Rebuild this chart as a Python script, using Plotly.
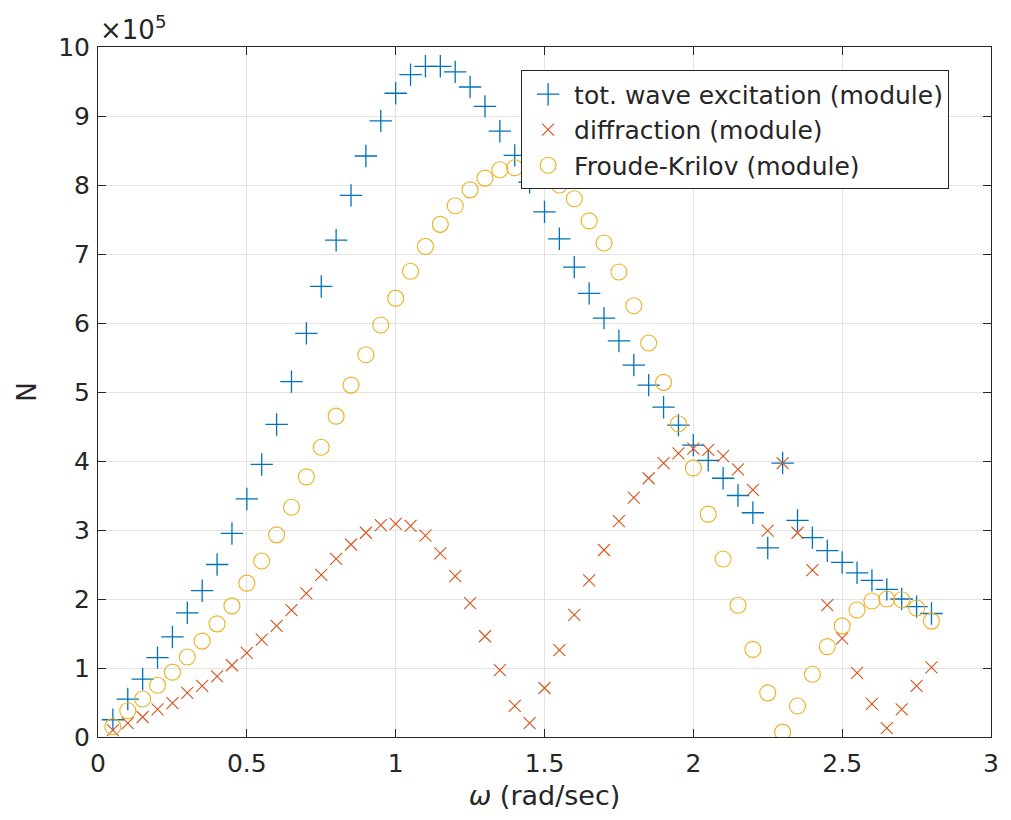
import plotly.graph_objects as go

# Angular frequency (rad/sec)
omega = [round(0.05 * k, 2) for k in range(1, 57)]

# Force modules, in units of 1e5 N
total_excitation = [
    0.25, 0.55, 0.84, 1.15, 1.45, 1.80, 2.12, 2.50, 2.95, 3.45,
    3.95, 4.53, 5.15, 5.85, 6.53, 7.20, 7.85, 8.42, 8.93, 9.33,
    9.60, 9.72, 9.72, 9.64, 9.42, 9.14, 8.78, 8.43, 8.04, 7.61,
    7.22, 6.81, 6.43, 6.07, 5.74, 5.39, 5.10, 4.78, 4.52, 4.23,
    4.01, 3.75, 3.50, 3.25, 2.74, 3.97, 3.14, 2.89, 2.70, 2.53,
    2.38, 2.27, 2.14, 2.00, 1.89, 1.79,
]
diffraction = [
    0.10, 0.20, 0.29, 0.40, 0.49, 0.64, 0.74, 0.88, 1.04, 1.22,
    1.41, 1.61, 1.84, 2.08, 2.35, 2.58, 2.79, 2.96, 3.07, 3.09,
    3.06, 2.92, 2.66, 2.33, 1.94, 1.46, 0.97, 0.45, 0.20, 0.71,
    1.26, 1.77, 2.27, 2.71, 3.13, 3.47, 3.75, 3.97, 4.11, 4.18,
    4.16, 4.07, 3.88, 3.58, 2.99, 3.97, 2.96, 2.42, 1.91, 1.43,
    0.93, 0.48, 0.13, 0.40, 0.74, 1.01,
]
froude_krilov = [
    0.15, 0.38, 0.55, 0.75, 0.94, 1.16, 1.39, 1.64, 1.90, 2.23,
    2.55, 2.93, 3.33, 3.77, 4.20, 4.65, 5.10, 5.54, 5.97, 6.36,
    6.75, 7.11, 7.43, 7.70, 7.93, 8.10, 8.22, 8.25, 8.19, 8.15,
    8.00, 7.80, 7.48, 7.16, 6.74, 6.25, 5.71, 5.14, 4.54, 3.90,
    3.23, 2.58, 1.91, 1.27, 0.64, 0.07, 0.45, 0.91, 1.31, 1.61,
    1.84, 1.97, 2.00, 1.99, 1.87, 1.68,
]

x_ticks = [0, 0.5, 1, 1.5, 2, 2.5, 3]
x_tick_text = ["0", "0.5", "1", "1.5", "2", "2.5", "3"]
y_ticks = list(range(0, 11))

BLUE = "#0072BD"
RED = "#D95319"
YELLOW = "#EDB120"
AXIS = "#262626"
FONT = "DejaVu Sans, Arial, sans-serif"

fig = go.Figure()
fig.add_trace(go.Scatter(
    x=omega, y=total_excitation, mode="markers",
    name="tot. wave excitation (module)", legendgroup="a",
    marker=dict(symbol="cross-thin", size=16, color=BLUE,
                line=dict(color=BLUE, width=1.3)),
))
fig.add_trace(go.Scatter(
    x=omega, y=diffraction, mode="markers",
    name="diffraction (module)", legendgroup="b",
    marker=dict(symbol="x-thin", size=12, color=RED,
                line=dict(color=RED, width=1.1)),
))
fig.add_trace(go.Scatter(
    x=omega, y=froude_krilov, mode="markers",
    name="Froude-Krilov (module)", legendgroup="c",
    marker=dict(symbol="circle-open", size=16, color=YELLOW,
                line=dict(color=YELLOW, width=1.1)),
))

axis_common = dict(
    showline=True, linecolor=AXIS, linewidth=1, mirror="ticks",
    ticks="inside", ticklen=8, tickcolor=AXIS, tickwidth=1,
    showgrid=True, gridcolor="#e3e3e3", gridwidth=1,
    zeroline=False, tickfont=dict(family=FONT, size=25, color=AXIS),
)

fig.update_layout(
    width=1011, height=820,
    margin=dict(l=98, r=16, t=47, b=83),
    paper_bgcolor="white", plot_bgcolor="white",
    font=dict(family=FONT, color=AXIS),
    xaxis=dict(
        range=[0, 3], tickvals=x_ticks, ticktext=x_tick_text,
        ticklabelstandoff=4,
        title=dict(text="<i>ω</i> (rad/sec)", font=dict(size=27, color=AXIS), standoff=9),
        **axis_common,
    ),
    yaxis=dict(
        range=[0, 10], tickvals=y_ticks, ticklabelstandoff=2,
        title=dict(text="N", font=dict(size=26, color=AXIS), standoff=14),
        **axis_common,
    ),
    legend=dict(
        x=(523 - 98) / 897, y=0.966, xanchor="left", yanchor="top",
        bgcolor="white", bordercolor=AXIS, borderwidth=1,
        font=dict(family=FONT, size=25, color=AXIS),
        traceorder="grouped", tracegroupgap=0, itemwidth=42,
        entrywidth=440, entrywidthmode="pixels",
    ),
    annotations=[dict(
        text="×10<sup>5</sup>", x=0, y=1, xref="paper", yref="paper",
        xanchor="left", yanchor="bottom", showarrow=False, yshift=0,
        font=dict(family=FONT, size=26, color=AXIS),
    )],
)

fig.write_html("out.html")
